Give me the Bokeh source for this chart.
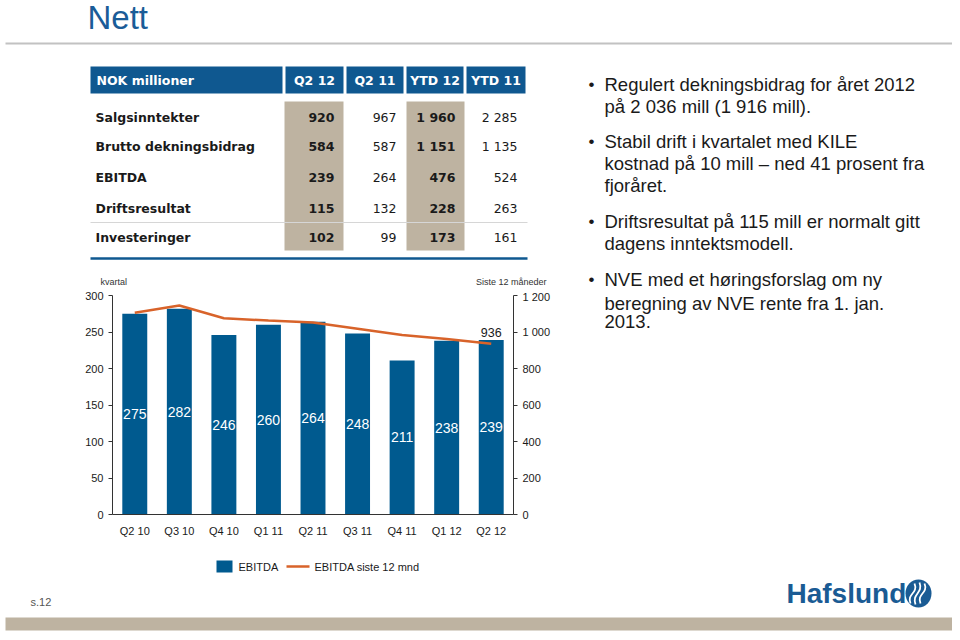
from bokeh.plotting import figure
from bokeh.models import (Range1d, FactorRange, LinearAxis, FixedTicker, CustomJSTickFormatter,
                          ColumnDataSource)
from bokeh.layouts import column, row
from bokeh.embed import file_html
from bokeh.resources import INLINE
from bokeh.core.properties import value

# ---------------- data ----------------
quarters = ["Q2 10", "Q3 10", "Q4 10", "Q1 11", "Q2 11", "Q3 11", "Q4 11", "Q1 12", "Q2 12"]
ebitda = [275, 282, 246, 260, 264, 248, 211, 238, 239]
ebitda_ltm = [1105, 1145, 1075, 1063, 1052, 1018, 983, 961, 936]
left_ticks = [0, 50, 100, 150, 200, 250, 300]
right_ticks = [0, 200, 400, 600, 800, 1000, 1200]
series_names = ["EBITDA", "EBITDA siste 12 mnd"]
axis_titles = ["kvartal", "Siste 12 måneder"]

table_header = ["NOK millioner", "Q2 12", "Q2 11", "YTD 12", "YTD 11"]
table_rows = ["Salgsinntekter", "Brutto dekningsbidrag", "EBITDA", "Driftsresultat", "Investeringer"]
col_q2_12 = ["920", "584", "239", "115", "102"]
col_q2_11 = ["967", "587", "264", "132", "99"]
col_ytd_12 = ["1 960", "1 151", "476", "228", "173"]
col_ytd_11 = ["2 285", "1 135", "524", "263", "161"]

bullets = [
    ["Regulert dekningsbidrag for året 2012", "på 2 036 mill (1 916 mill)."],
    ["Stabil drift i kvartalet med KILE", "kostnad på 10 mill – ned 41 prosent fra", "fjoråret."],
    ["Driftsresultat på 115 mill er normalt gitt", "dagens inntektsmodell."],
    ["NVE med et høringsforslag om ny", "beregning av NVE rente fra 1. jan.", "2013."],
]

BLUE = "#0f5890"
BAR = "#005a8f"
ORANGE = "#d8632a"
BEIGE = "#beb3a1"
FONT = "Liberation Sans"
TFONT = "DejaVu Sans"
TXT = "#1a1a1a"


def canvas(w, h, x0, x1, y0, y1):
    f = figure(width=w, height=h, x_range=Range1d(x0, x1), y_range=Range1d(y1, y0),
               output_backend="svg", toolbar_location=None, min_border=0)
    f.axis.visible = False
    f.grid.visible = False
    f.outline_line_color = None
    f.background_fill_color = "white"
    f.border_fill_color = "white"
    return f


# ---------------- top: title, table, bullets ----------------
top = canvas(952, 290, 0, 952, 0, 290)
top.text(x=[87], y=[17], text=["Nett"], text_font=value(FONT), text_font_size="33px",
         text_color="#1a5c98", text_baseline="middle")
top.segment(x0=[5], y0=[43], x1=[952], y1=[43], line_color="#c2c2c2", line_width=2)

hx0 = [90, 285, 346, 406, 466]
hx1 = [282, 343, 403, 463, 525]
top.quad(left=hx0, right=hx1, top=[66] * 5, bottom=[93] * 5, fill_color=BLUE, line_color=None)
hx_text = [96] + [(a + b) / 2 for a, b in zip(hx0[1:], hx1[1:])]
top.text(x=hx_text[:1], y=[80], text=table_header[:1], text_font=value(TFONT), text_font_style="bold",
         text_font_size="12.5px", text_color="white", text_baseline="middle", text_align="left")
top.text(x=hx_text[1:], y=[80] * 4, text=table_header[1:], text_font=value(TFONT), text_font_style="bold",
         text_font_size="12.5px", text_color="white", text_baseline="middle", text_align="center")

top.quad(left=[284, 406], right=[343, 464], top=[101, 101], bottom=[250, 250], fill_color=BEIGE, line_color=None)
row_y = [117, 146, 177, 208, 237]
top.segment(x0=[90], y0=[222], x1=[527], y1=[222], line_color="#d6d6d6", line_width=1)
top.segment(x0=[90], y0=[258], x1=[527], y1=[258], line_color=BLUE, line_width=2.5)

top.text(x=[95] * 5, y=row_y, text=table_rows, text_font=value(TFONT), text_font_style="bold",
         text_font_size="12.5px", text_color=TXT, text_baseline="middle")
for xr, vals, bold in [(334, col_q2_12, True), (396, col_q2_11, False),
                       (455, col_ytd_12, True), (517, col_ytd_11, False)]:
    top.text(x=[xr] * 5, y=row_y, text=vals, text_font=value(TFONT),
             text_font_style="bold" if bold else "normal",
             text_font_size="12.5px", text_color=TXT, text_baseline="middle", text_align="right")

# chart axis titles (sit just above the chart frame)
top.text(x=[100], y=[281], text=axis_titles[:1], text_font=value(FONT), text_font_size="9px",
         text_color="#333333", text_baseline="middle")
top.text(x=[546], y=[281], text=axis_titles[1:], text_font=value(FONT), text_font_size="9px",
         text_color="#333333", text_baseline="middle", text_align="right")

BFS = "18.5px"


def draw_bullet(f, lines, y0, first=True):
    if first:
        f.text(x=[588], y=[y0], text=["•"], text_font=value(FONT), text_font_size="17px",
               text_color=TXT, text_baseline="middle")
    f.text(x=[604] * len(lines), y=[y0 + 22 * i for i in range(len(lines))], text=lines,
           text_font=value(FONT), text_font_size=BFS, text_color=TXT, text_baseline="middle")


for lines, y0 in zip(bullets[:3], [84, 141, 221]):
    draw_bullet(top, lines, y0)
draw_bullet(top, bullets[3][:1], 279)

# ---------------- chart ----------------
chart = figure(width=568, height=258, x_range=FactorRange(*quarters, range_padding=0),
               y_range=Range1d(0, 300), output_backend="svg", toolbar_location=None,
               min_border_left=112, min_border_right=55, min_border_top=5, min_border_bottom=34)
chart.extra_y_ranges = {"ltm": Range1d(0, 1200)}
chart.grid.visible = False
chart.outline_line_color = None
chart.border_fill_color = "white"

src = ColumnDataSource(dict(q=quarters, v=ebitda, mid=[v / 2 for v in ebitda],
                            lab=[str(v) for v in ebitda]))
chart.vbar(x="q", top="v", width=0.56, source=src, fill_color=BAR, line_color=None)
chart.text(x="q", y="mid", text="lab", source=src, text_align="center", text_baseline="middle",
           text_color="white", text_font=value(FONT), text_font_size="14px")
chart.line(x=quarters, y=ebitda_ltm, y_range_name="ltm", line_color=ORANGE, line_width=2.5)
chart.text(x=quarters[-1:], y=ebitda_ltm[-1:], text=[str(ebitda_ltm[-1])], y_range_name="ltm",
           text_align="center", text_baseline="bottom", y_offset=-7,
           text_color=TXT, text_font=value(FONT), text_font_size="12.5px")

ax = chart.yaxis[0]
ax.ticker = FixedTicker(ticks=left_ticks)
rax = LinearAxis(y_range_name="ltm", ticker=FixedTicker(ticks=right_ticks),
                 formatter=CustomJSTickFormatter(code="return tick.toString().replace(/\\B(?=(\\d{3})+(?!\\d))/g, ' ');"))
chart.add_layout(rax, "right")
xax = chart.xaxis[0]

for a in [ax, rax, xax]:
    a.axis_line_color = "#333333"
    a.minor_tick_line_color = None
    a.major_tick_in = 0
    a.major_tick_out = 4
    a.major_tick_line_color = "#333333"
    a.major_label_text_font = FONT
    a.major_label_text_font_size = "11px"
    a.major_label_text_color = TXT
xax.major_tick_line_color = None
xax.major_label_standoff = 6

# ---------------- right: rest of bullet 4 ----------------
right = canvas(384, 258, 568, 952, 290, 548)
draw_bullet(right, bullets[3][1:], 299, first=False)

# ---------------- footer: legend, page number, logo ----------------
foot = canvas(952, 84, 0, 952, 548, 632)
foot.quad(left=[216], right=[232], top=[560], bottom=[572], fill_color=BAR, line_color=None)
foot.segment(x0=[286], y0=[566], x1=[309], y1=[566], line_color=ORANGE, line_width=2.5)
foot.text(x=[238, 314], y=[566, 566], text=series_names, text_font=value(FONT), text_font_size="11px",
          text_color=TXT, text_baseline="middle")

foot.quad(left=[5], right=[952], top=[617], bottom=[630], fill_color=BEIGE, line_color=None)
foot.text(x=[30], y=[601], text=["s.12"], text_font=value(FONT), text_font_size="11px",
          text_color="#555555", text_baseline="middle")
foot.text(x=[786], y=[593], text=["Hafslund"], text_font=value(FONT), text_font_style="bold",
          text_font_size="28px", text_color="#1a5b94", text_baseline="middle")
foot.ellipse(x=[918], y=[593], width=[26], height=[28], fill_color="#1a5b94", line_color=None)
foot.bezier(x0=[910, 915, 920], y0=[603, 604, 603], x1=[914, 919, 924], y1=[583, 582, 583],
            cx0=[906, 911, 916], cy0=[593, 593, 593], cx1=[918, 923, 928], cy1=[593, 593, 593],
            line_color="white", line_width=1.8)

layout = column(top, row(chart, right), foot)
open("out.html", "w").write(file_html(layout, INLINE))
